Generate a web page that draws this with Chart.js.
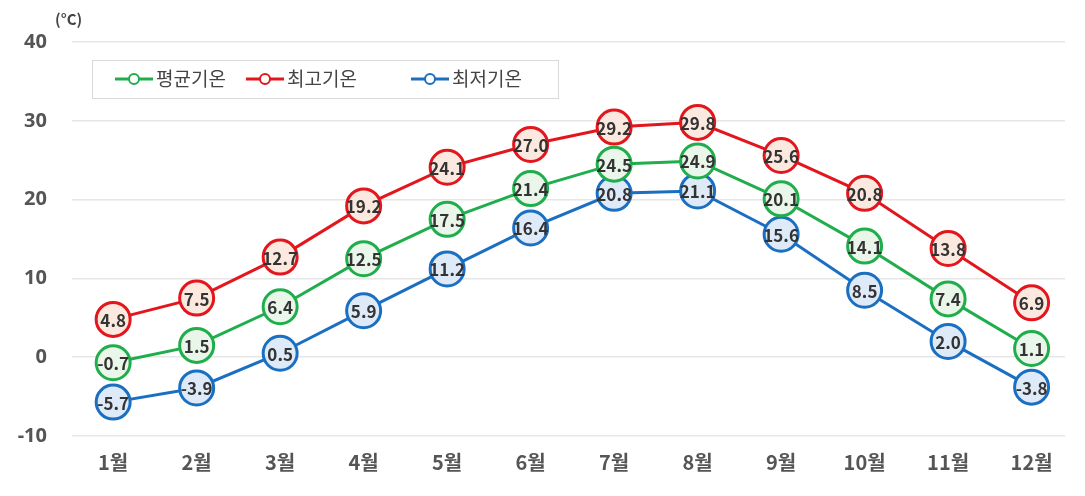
<!DOCTYPE html>
<html>
<head>
<meta charset="utf-8">
<script src="https://cdn.jsdelivr.net/npm/chart.js@4"></script>
<style>
  html, body { margin: 0; padding: 0; background: #fff; overflow: hidden; }
  #wrap { width: 1085px; height: 496px; }
</style>
</head>
<body>
<div id="wrap"><canvas id="chart" width="1085" height="496"></canvas></div>
<script>
const months = ['1월', '2월', '3월', '4월', '5월', '6월', '7월', '8월', '9월', '10월', '11월', '12월'];
const avgTemp = [-0.7, 1.5, 6.4, 12.5, 17.5, 21.4, 24.5, 24.9, 20.1, 14.1, 7.4, 1.1];
const maxTemp = [4.8, 7.5, 12.7, 19.2, 24.1, 27.0, 29.2, 29.8, 25.6, 20.8, 13.8, 6.9];
const minTemp = [-5.7, -3.9, 0.5, 5.9, 11.2, 16.4, 20.8, 21.1, 15.6, 8.5, 2.0, -3.8];
const seriesNames = ['평균기온', '최고기온', '최저기온'];
const yTicks = [-10, 0, 10, 20, 30, 40];

const KR_FONT = "'Noto Sans CJK KR', 'Noto Sans', sans-serif";

function toPoints(values) {
    return values.map((v, i) => ({ x: i + 1, y: v }));
}

function makeDataset(label, values, color, fill) {
    return {
        label: label,
        data: toPoints(values),
        borderColor: color,
        backgroundColor: color,
        borderWidth: 3,
        pointRadius: 17,
        pointHoverRadius: 17,
        pointBorderWidth: 3,
        pointBorderColor: color,
        pointBackgroundColor: fill,
        tension: 0
    };
}

// value labels inside the circles, plus the boxed legend and unit text
const extras = {
    id: 'extras',
    afterDatasetsDraw(chart) {
        const ctx = chart.ctx;
        ctx.save();
        ctx.font = "bold 17px " + KR_FONT;
        ctx.fillStyle = '#333';
        ctx.textAlign = 'center';
        ctx.textBaseline = 'middle';
        chart.data.datasets.forEach((ds, di) => {
            const meta = chart.getDatasetMeta(di);
            meta.data.forEach((pt, i) => {
                ctx.fillText(ds.data[i].y.toFixed(1), pt.x, pt.y + 1);
            });
        });
        ctx.restore();
    },
    afterDraw(chart) {
        const ctx = chart.ctx;
        ctx.save();
        // unit
        ctx.font = "bold 15px " + KR_FONT;
        ctx.fillStyle = '#444';
        ctx.textAlign = 'left';
        ctx.textBaseline = 'middle';
        ctx.fillText('(°C)', 55, 19);

        // legend box
        ctx.fillStyle = '#fff';
        ctx.fillRect(92, 60, 466, 38);
        ctx.strokeStyle = '#d9d9d9';
        ctx.lineWidth = 1;
        ctx.strokeRect(92.5, 60.5, 466, 38);

        const items = [
            { x: 115, color: chart.data.datasets[0].borderColor, text: seriesNames[0] },
            { x: 246, color: chart.data.datasets[1].borderColor, text: seriesNames[1] },
            { x: 411, color: chart.data.datasets[2].borderColor, text: seriesNames[2] }
        ];
        const cy = 79;
        items.forEach(it => {
            ctx.strokeStyle = it.color;
            ctx.lineWidth = 3;
            ctx.beginPath();
            ctx.moveTo(it.x, cy);
            ctx.lineTo(it.x + 38, cy);
            ctx.stroke();
            ctx.beginPath();
            ctx.arc(it.x + 19, cy, 5, 0, Math.PI * 2);
            ctx.fillStyle = '#fff';
            ctx.fill();
            ctx.lineWidth = 2;
            ctx.stroke();
            ctx.fillStyle = '#444';
            ctx.font = "19px " + KR_FONT;
            ctx.textAlign = 'left';
            ctx.textBaseline = 'middle';
            ctx.fillText(it.text, it.x + 41, cy);
        });
        ctx.restore();
    }
};

const ctx = document.getElementById('chart').getContext('2d');
new Chart(ctx, {
    type: 'line',
    data: {
        datasets: [
            makeDataset(seriesNames[0], avgTemp, '#1fae4b', '#e9f6e9'),
            makeDataset(seriesNames[1], maxTemp, '#e3161d', '#fbe9df'),
            makeDataset(seriesNames[2], minTemp, '#1b6fc2', '#deeaf8')
        ]
    },
    options: {
        responsive: false,
        animation: false,
        layout: { padding: { top: 42, right: 0, left: 0, bottom: 0 } },
        plugins: {
            legend: { display: false },
            title: { display: false },
            tooltip: { enabled: false }
        },
        scales: {
            x: {
                type: 'linear',
                min: 0.507,
                max: 12.4,
                grid: { display: false, drawTicks: false },
                border: { display: false },
                afterBuildTicks: axis => {
                    axis.ticks = months.map((m, i) => ({ value: i + 1 }));
                },
                afterFit: axis => { axis.height = 60; },
                ticks: {
                    autoSkip: false,
                    maxRotation: 0,
                    padding: 14,
                    color: '#555',
                    font: { family: KR_FONT, size: 20, weight: 'bold' },
                    callback: v => months[Math.round(v) - 1]
                }
            },
            y: {
                min: -10,
                max: 40,
                afterBuildTicks: axis => {
                    axis.ticks = yTicks.map(v => ({ value: v }));
                },
                afterFit: axis => { axis.width = 72; },
                grid: { color: '#e6e6e6', lineWidth: 1.5, drawTicks: false },
                border: { display: false },
                ticks: {
                    padding: 25,
                    color: '#555',
                    font: { family: "'Noto Sans', sans-serif", size: 20, weight: 'bold' }
                }
            }
        }
    },
    plugins: [extras]
});
</script>
</body>
</html>
